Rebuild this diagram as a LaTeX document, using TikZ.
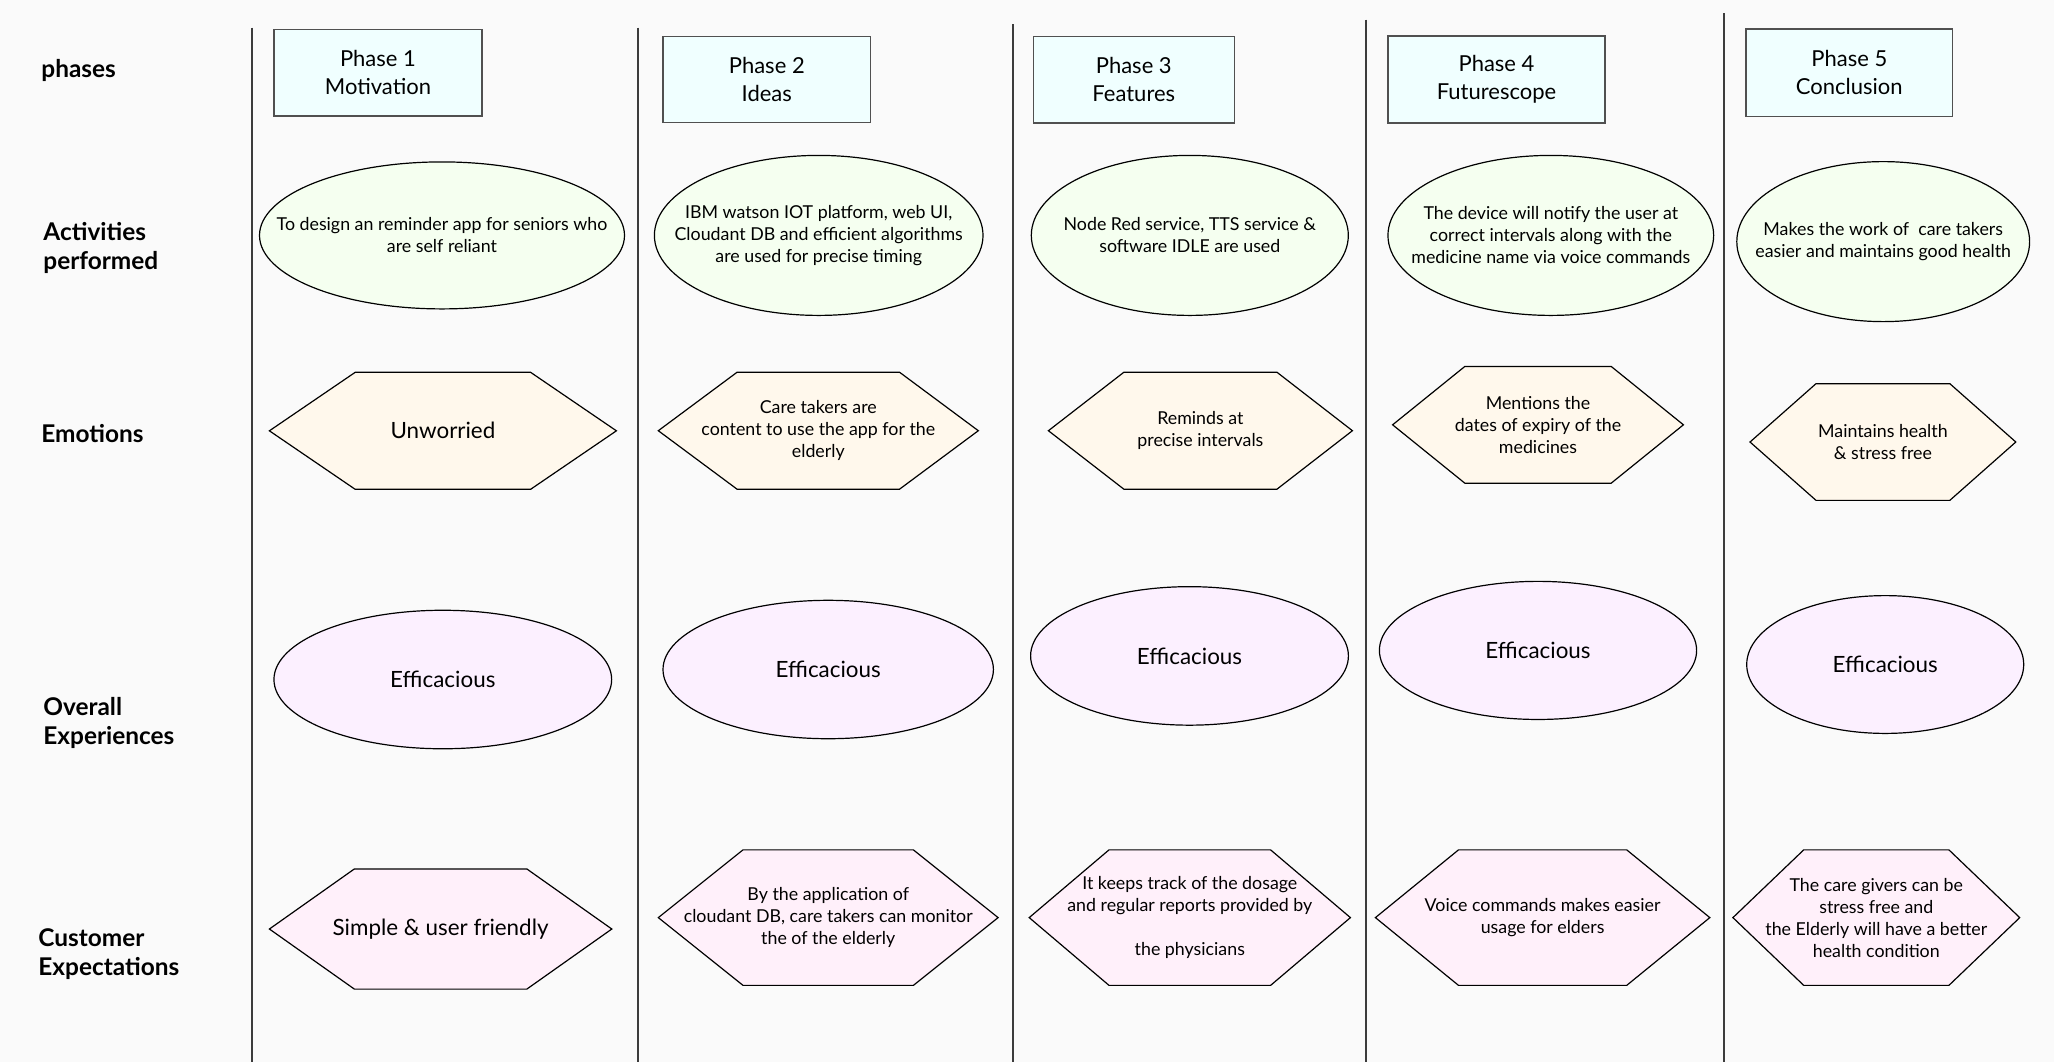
\documentclass[tikz,border=0pt]{standalone}
\usepackage{fontspec}
\setmainfont{Lato}
\usetikzlibrary{backgrounds, calc}

\definecolor{pagebg}{HTML}{FAFAFA}
\definecolor{phasefill}{HTML}{F0FFFF}
\definecolor{actfill}{HTML}{F5FFF0}
\definecolor{emofill}{HTML}{FFF8EC}
\definecolor{expfill}{HTML}{FCF0FF}
\definecolor{custfill}{HTML}{FFF0FA}
\definecolor{lanecol}{HTML}{3C3C3C}
\definecolor{boxline}{HTML}{505050}

\begin{document}
\begin{tikzpicture}[x=0.5pt, y=-0.5pt,
    rowlabel/.style={anchor=west, inner sep=0pt, align=left, font=\fontsize{12.2}{14.5}\selectfont\bfseries},
    phasebox/.style={rectangle, draw=boxline, fill=phasefill, line width=0.7pt, inner sep=0pt, align=center, font=\fontsize{11}{14}\selectfont},
    textarea/.style={rectangle, inner sep=0pt, outer sep=0pt, align=center, font=\fontsize{8.9}{11}\selectfont},
    bigtext/.style={font=\fontsize{11.2}{14}\selectfont},
    outline/.style={draw=black, line width=0.6pt},
    ]
    \useasboundingbox (0,0) rectangle (2054,1062);

    %Row labels
    \node[rowlabel] (rphase) at (41,70) {phases};
    \node[rowlabel] (ract) at (43,248) {Activities\\performed};
    \node[rowlabel] (remo) at (41,434) {Emotions};
    \node[rowlabel] (rexp) at (43,722.5) {Overall\\Experiences};
    \node[rowlabel] (rcust) at (38,954.6) {Customer\\Expectations};

    %Phases
    \node[phasebox, minimum width=104pt, minimum height=43.2pt] (phase1) at (378,72.8) {Phase 1\\Motivation};
    \node[phasebox, minimum width=103.8pt, minimum height=42.85pt] (phase2) at (766.8,79.4) {Phase 2\\Ideas};
    \node[phasebox, minimum width=100.5pt, minimum height=43.25pt] (phase3) at (1133.8,79.8) {Phase 3\\Features};
    \node[phasebox, minimum width=108.5pt, minimum height=43.6pt] (phase4) at (1496.5,79.4) {Phase 4\\Futurescope};
    \node[phasebox, minimum width=103.25pt, minimum height=43.85pt] (phase5) at (1849.3,72.9) {Phase 5\\Conclusion};

    %Activities performed
    \node[textarea, minimum width=182.5pt, minimum height=73.5pt] (act1) at (442,235.4) {To design an reminder app for seniors who\\are self reliant};
    \node[textarea, minimum width=164.3pt, minimum height=80pt] (act2) at (818.7,235.4) {IBM watson IOT platform, web UI,\\Cloudant DB and efficient algorithms\\are used for precise timing};
    \node[textarea, minimum width=158.5pt, minimum height=80pt] (act3) at (1189.8,235.4) {Node Red service, TTS service \&\\software IDLE are used};
    \node[textarea, minimum width=162.85pt, minimum height=80pt] (act4) at (1550.8,235.4) {The device will notify the user at\\correct intervals along with the\\medicine name via voice commands};
    \node[textarea, minimum width=146.4pt, minimum height=80pt] (act5) at (1883.2,241.6) {Makes the work of\ \ care takers\\easier and maintains good health};

    %Emotions
    \node[textarea, bigtext, minimum width=173.5pt, minimum height=58.5pt] (emo1) at (442.9,430.8) {Unworried};
    \node[textarea, minimum width=160pt, minimum height=58.5pt] (emo2) at (818.3,430.7) {Care takers are\\content to use the app for the\\elderly};
    \node[textarea, minimum width=152pt, minimum height=58.5pt] (emo3) at (1200.4,430.7) {Reminds at\\precise intervals};
    \node[textarea, minimum width=145.4pt, minimum height=58.35pt] (emo4) at (1538,424.8) {Mentions the\\dates of expiry of the\\medicines};
    \node[textarea, minimum width=132.9pt, minimum height=58.35pt] (emo5) at (1882.9,442) {Maintains health\\\& stress free};

    %Overall experiences
    \node[textarea, bigtext, minimum width=168.85pt, minimum height=69.25pt] (exp1) at (442.8,679.5) {Efficacious};
    \node[textarea, bigtext, minimum width=165.2pt, minimum height=69.2pt] (exp2) at (828.2,669.5) {Efficacious};
    \node[textarea, bigtext, minimum width=158.9pt, minimum height=69.25pt] (exp3) at (1189.5,655.9) {Efficacious};
    \node[textarea, bigtext, minimum width=158.6pt, minimum height=69.05pt] (exp4) at (1538,650.4) {Efficacious};
    \node[textarea, bigtext, minimum width=138.5pt, minimum height=68.9pt] (exp5) at (1885.2,664.5) {Efficacious};

    %Customer expectations
    \node[textarea, bigtext, minimum width=171.2pt, minimum height=60.1pt] (cust1) at (440.6,929) {Simple \& user friendly};
    \node[textarea, minimum width=169.9pt, minimum height=67.75pt] (cust2) at (828.2,917.6) {By the application of\\cloudant DB, care takers can monitor\\the of the elderly};
    \node[textarea, minimum width=160.6pt, minimum height=67.75pt] (cust3) at (1189.8,917.6) {It keeps track of the dosage\\and regular reports provided by\\\mbox{}\\the physicians};
    \node[textarea, minimum width=167.2pt, minimum height=67.75pt] (cust4) at (1542.6,917.6) {Voice commands makes easier\\usage for elders};
    \node[textarea, minimum width=143.4pt, minimum height=67.75pt] (cust5) at (1876.3,917.6) {The care givers can be\\stress free and\\the Elderly will have a better\\health condition};

    \begin{scope}[on background layer]
    \fill[pagebg] (0,0) rectangle (2054,1062);
    % swimlane separators
    \foreach \x/\ytop in {251.6/27.5, 638/27.5, 1013/24, 1366/19.6, 1724/13}
        \draw[lanecol, line width=1pt] (\x,\ytop) -- (\x,1062);
    % ovals
    \foreach \i in {1,...,5}{
        \draw[outline, fill=actfill] let \p1=(act\i.north east), \p2=(act\i.center) in (\p2) ellipse [x radius=\x1-\x2, y radius=\y1-\y2];
        \draw[outline, fill=expfill] let \p1=(exp\i.north east), \p2=(exp\i.center) in (\p2) ellipse [x radius=\x1-\x2, y radius=\y1-\y2];
    }
    % hexagons
    \foreach \i/\d in {1/42.9, 2/39.4, 3/37.75, 4/36.1, 5/33}
        \draw[outline, fill=emofill] (emo\i.west) -- ([xshift=\d pt]emo\i.north west) -- ([xshift=-\d pt]emo\i.north east) -- (emo\i.east) -- ([xshift=-\d pt]emo\i.south east) -- ([xshift=\d pt]emo\i.south west) -- cycle;
    \foreach \i/\d in {1/42.5, 2/42.35, 3/39.9, 4/41.55, 5/35.4}
        \draw[outline, fill=custfill] (cust\i.west) -- ([xshift=\d pt]cust\i.north west) -- ([xshift=-\d pt]cust\i.north east) -- (cust\i.east) -- ([xshift=-\d pt]cust\i.south east) -- ([xshift=\d pt]cust\i.south west) -- cycle;
    \end{scope}
\end{tikzpicture}
\end{document}
